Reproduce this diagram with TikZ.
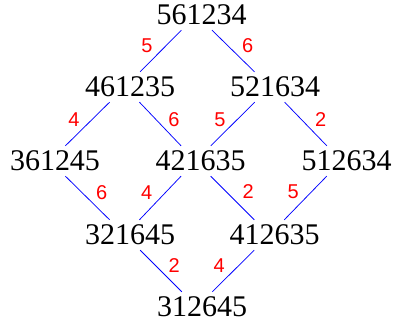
\documentclass[tikz,border=0pt]{standalone}
\usepackage{fontspec}
\setmainfont{Liberation Serif}
\newfontfamily\lblfont{Liberation Sans}
\begin{document}
\begin{tikzpicture}[x=1pt,y=1pt,
  vert/.style={inner sep=0pt, minimum width=90pt, minimum height=30pt},
  numtxt/.style={inner sep=0pt, font=\fontsize{30}{30}\selectfont, text=black},
  lbl/.style={inner sep=0pt, font=\lblfont\fontsize{20}{20}\selectfont, text=red},
  edge/.style={draw=blue, line width=0.75pt}]
\useasboundingbox (0,0) rectangle (394,324);
\newcommand{\vtx}[3]{\node[vert, label={[numtxt,xshift=5pt]center:#3}] (#1) at #2 {};}
\vtx{a}{(196.5,309)}{561234}
\vtx{b}{(125,237)}{461235}
\vtx{c}{(270,237)}{521634}
\vtx{d}{(50,163)}{361245}
\vtx{e}{(195.5,163)}{421635}
\vtx{f}{(341.5,163)}{512634}
\vtx{g}{(125,89)}{321645}
\vtx{h}{(269.5,89)}{412635}
\vtx{i}{(197,17)}{312645}
\draw[edge] (a) -- (b);
\draw[edge] (a) -- (c);
\draw[edge] (b) -- (d);
\draw[edge] (b) -- (e);
\draw[edge] (c) -- (e);
\draw[edge] (c) -- (f);
\draw[edge] (d) -- (g);
\draw[edge] (e) -- (g);
\draw[edge] (e) -- (h);
\draw[edge] (f) -- (h);
\draw[edge] (g) -- (i);
\draw[edge] (h) -- (i);
\node[lbl] (lab) at (147,278.3) {5};
\node[lbl] (lac) at (247.7,278.3) {6};
\node[lbl] (lbd) at (74,204) {4};
\node[lbl] (lbe) at (174,204) {6};
\node[lbl] (lce) at (220,204) {5};
\node[lbl] (lcf) at (320.7,204) {2};
\node[lbl] (ldg) at (101.7,131.3) {6};
\node[lbl] (leg) at (146.7,131.3) {4};
\node[lbl] (leh) at (248.3,132.3) {2};
\node[lbl] (lfh) at (293.3,132.3) {5};
\node[lbl] (lgi) at (174.3,58.3) {2};
\node[lbl] (lhi) at (219.3,58.3) {4};
\end{tikzpicture}
\end{document}
